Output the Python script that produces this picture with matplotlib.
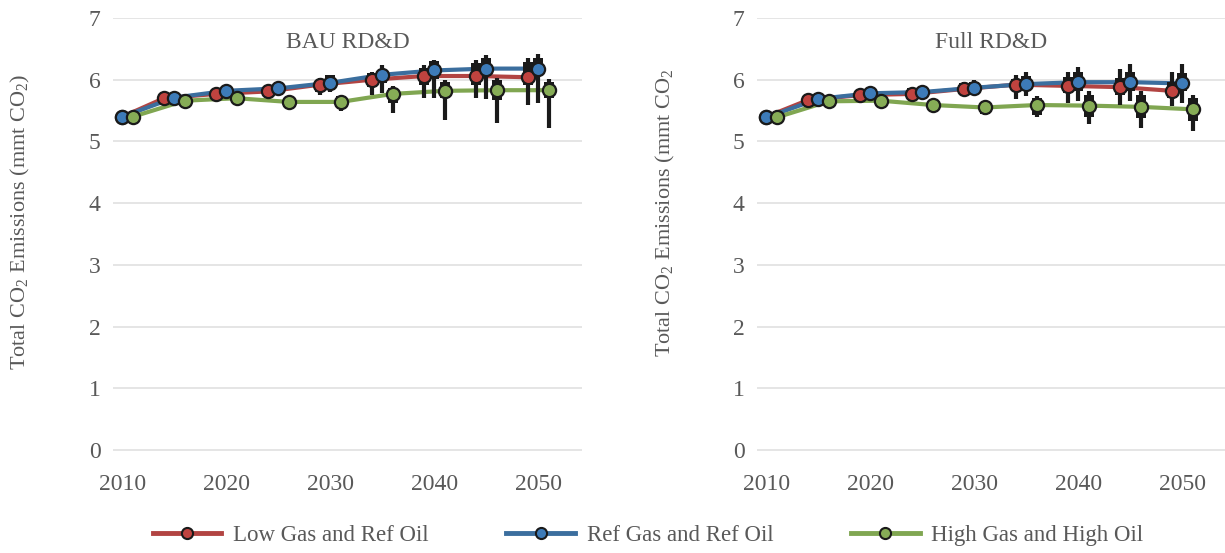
import numpy as np
import matplotlib
matplotlib.use("Agg")
import matplotlib.pyplot as plt
from matplotlib.lines import Line2D

plt.rcParams['font.family'] = ['Liberation Serif', 'DejaVu Serif']
plt.rcParams['mathtext.fontset'] = 'custom'
plt.rcParams['mathtext.rm'] = 'Liberation Serif'

nan = np.nan

# x positions of each series (years, slightly staggered as in the original)
low_years = [2010, 2014, 2019, 2024, 2029, 2034, 2039, 2044, 2049]
ref_years = [2010, 2015, 2020, 2025, 2030, 2035, 2040, 2045, 2050]
high_years = [2011, 2016, 2021, 2026, 2031, 2036, 2041, 2046, 2051]

# ---- BAU RD&D ----
bau_low = [5.40, 5.70, 5.77, 5.81, 5.92, 6.00, 6.06, 6.06, 6.04]
bau_low_q1 = [nan, nan, nan, nan, 5.80, 5.89, 5.92, 5.92, 5.92]
bau_low_q3 = [nan, nan, nan, nan, 6.00, 6.11, 6.19, 6.27, 6.29]
bau_low_min = [nan, nan, nan, nan, 5.75, 5.75, 5.71, 5.70, 5.59]
bau_low_max = [nan, nan, nan, nan, 6.02, 6.13, 6.24, 6.32, 6.35]

bau_ref = [5.40, 5.71, 5.82, 5.86, 5.95, 6.08, 6.15, 6.18, 6.18]
bau_ref_q1 = [nan, nan, nan, 5.75, 5.83, 5.95, 6.01, 6.08, 6.08]
bau_ref_q3 = [nan, nan, nan, 5.91, 6.08, 6.16, 6.31, 6.35, 6.35]
bau_ref_min = [nan, nan, nan, 5.75, 5.80, 5.79, 5.71, 5.68, 5.62]
bau_ref_max = [nan, nan, nan, 5.91, 6.08, 6.24, 6.32, 6.40, 6.42]

bau_high = [5.40, 5.66, 5.70, 5.64, 5.64, 5.77, 5.82, 5.83, 5.83]
bau_high_q1 = [nan, nan, nan, nan, 5.54, 5.63, 5.70, 5.67, 5.70]
bau_high_q3 = [nan, nan, nan, nan, 5.73, 5.87, 5.97, 6.00, 5.97]
bau_high_min = [nan, nan, nan, nan, 5.50, 5.46, 5.35, 5.30, 5.22]
bau_high_max = [nan, nan, nan, nan, 5.73, 5.90, 5.99, 6.02, 6.01]

# ---- Full RD&D ----
full_low = [5.40, 5.67, 5.75, 5.77, 5.85, 5.92, 5.90, 5.88, 5.82]
full_low_q1 = [nan, nan, nan, 5.70, 5.79, 5.83, 5.78, 5.75, 5.70]
full_low_q3 = [nan, nan, nan, 5.87, 5.95, 6.01, 6.04, 6.03, 5.96]
full_low_min = [nan, nan, nan, 5.70, 5.76, 5.69, 5.63, 5.59, 5.57]
full_low_max = [nan, nan, nan, 5.87, 5.97, 6.08, 6.13, 6.17, 6.13]

full_ref = [5.39, 5.69, 5.78, 5.80, 5.87, 5.93, 5.96, 5.96, 5.94]
full_ref_q1 = [nan, nan, nan, 5.73, 5.78, 5.81, 5.81, 5.81, 5.81]
full_ref_q3 = [nan, nan, nan, 5.89, 5.97, 6.06, 6.13, 6.13, 6.11]
full_ref_min = [nan, nan, nan, 5.73, 5.75, 5.73, 5.65, 5.65, 5.63]
full_ref_max = [nan, nan, nan, 5.89, 6.00, 6.13, 6.21, 6.26, 6.26]

full_high = [5.39, 5.65, 5.66, 5.59, 5.55, 5.59, 5.58, 5.56, 5.52]
full_high_q1 = [nan, nan, nan, nan, 5.45, 5.43, 5.39, 5.38, 5.33]
full_high_q3 = [nan, nan, nan, nan, 5.63, 5.71, 5.75, 5.75, 5.70]
full_high_min = [nan, nan, nan, nan, 5.43, 5.40, 5.28, 5.22, 5.17]
full_high_max = [nan, nan, nan, nan, 5.63, 5.73, 5.81, 5.81, 5.75]

titles = ["BAU RD&D", "Full RD&D"]
ylabels = [r"Total CO$_2$ Emissions (mmt CO$_2$)", r"Total CO$_2$ Emissions (mmt CO$_2$"]
series_names = ["Low Gas and Ref Oil", "Ref Gas and Ref Oil", "High Gas and High Oil"]
xticks = [2010, 2020, 2030, 2040, 2050]
yticks = [0, 1, 2, 3, 4, 5, 6, 7]

line_colors = ["#B24442", "#3B6E9E", "#80A651"]
face_colors = ["#C0433F", "#3D7BB8", "#86AC56"]
gray = "#595959"

panels = [
    [(low_years, bau_low, bau_low_q1, bau_low_q3, bau_low_min, bau_low_max),
     (ref_years, bau_ref, bau_ref_q1, bau_ref_q3, bau_ref_min, bau_ref_max),
     (high_years, bau_high, bau_high_q1, bau_high_q3, bau_high_min, bau_high_max)],
    [(low_years, full_low, full_low_q1, full_low_q3, full_low_min, full_low_max),
     (ref_years, full_ref, full_ref_q1, full_ref_q3, full_ref_min, full_ref_max),
     (high_years, full_high, full_high_q1, full_high_q3, full_high_min, full_high_max)],
]

W, H = 1225, 553
fig = plt.figure(figsize=(W / 100, H / 100), dpi=100)

ax_left_px = [113, 757]
ax_w_px = 469
y_top_px, y_bot_px = 18, 468.5
ylo, yhi = -0.3, 7.0

for p in range(2):
    ax = fig.add_axes([ax_left_px[p] / W, 1 - y_bot_px / H, ax_w_px / W, (y_bot_px - y_top_px) / H])
    ax.set_xlim(2009.1, 2054.2)
    ax.set_ylim(ylo, yhi)
    for s in ax.spines.values():
        s.set_visible(False)
    ax.set_yticks(yticks)
    ax.set_xticks(xticks)
    ax.tick_params(axis='both', length=0, labelsize=17, labelcolor=gray)
    ax.tick_params(axis='y', pad=9)
    ax.tick_params(axis='x', pad=4)
    for yv in yticks:
        ax.axhline(yv, color="#E3E3E3", lw=1.3, zorder=0)
    ax.set_title(titles[p], y=0.915, fontsize=17, color=gray)

    for i, (xs, vals, q1, q3, lo, hi) in enumerate(panels[p]):
        ax.plot(xs, vals, color=line_colors[i], lw=3, zorder=2 + i * 0.1, solid_capstyle='round')
    for i, (xs, vals, q1, q3, lo, hi) in enumerate(panels[p]):
        xs_a = np.array(xs, float)
        q1 = np.array(q1); q3 = np.array(q3)
        ok = ~np.isnan(q1)
        ax.vlines(xs_a[ok], np.array(lo)[ok], np.array(hi)[ok], color="#1a1a1a", lw=3, zorder=3)
        ax.bar(xs_a[ok], (q3 - q1)[ok], bottom=q1[ok], width=0.95, color="#1a1a1a", zorder=3)
    for i, (xs, vals, q1, q3, lo, hi) in enumerate(panels[p]):
        ax.plot(xs, vals, ls='none', marker='o', ms=9.5, mfc=face_colors[i], mec="#1a1a1a",
                mew=1.6, zorder=4 + i * 0.1)

fig.text(20 / W, 1 - 222 / H, ylabels[0], rotation=90, ha='center', va='center', fontsize=16, color=gray)
fig.text(665 / W, 1 - 213 / H, ylabels[1], rotation=90, ha='center', va='center', fontsize=16, color=gray)

handles = [Line2D([], [], color=line_colors[i], lw=3.5, marker='o', ms=8, mfc=face_colors[i],
                  mec="#1a1a1a", mew=1.5) for i in range(3)]
fig.legend(handles, series_names, loc='center', bbox_to_anchor=(648 / W, 1 - 535 / H), ncol=3,
           frameon=False, fontsize=16.5, labelcolor=gray, handlelength=3.0, handletextpad=0.5,
           columnspacing=3.4)

fig.savefig("out.png", dpi=100)
